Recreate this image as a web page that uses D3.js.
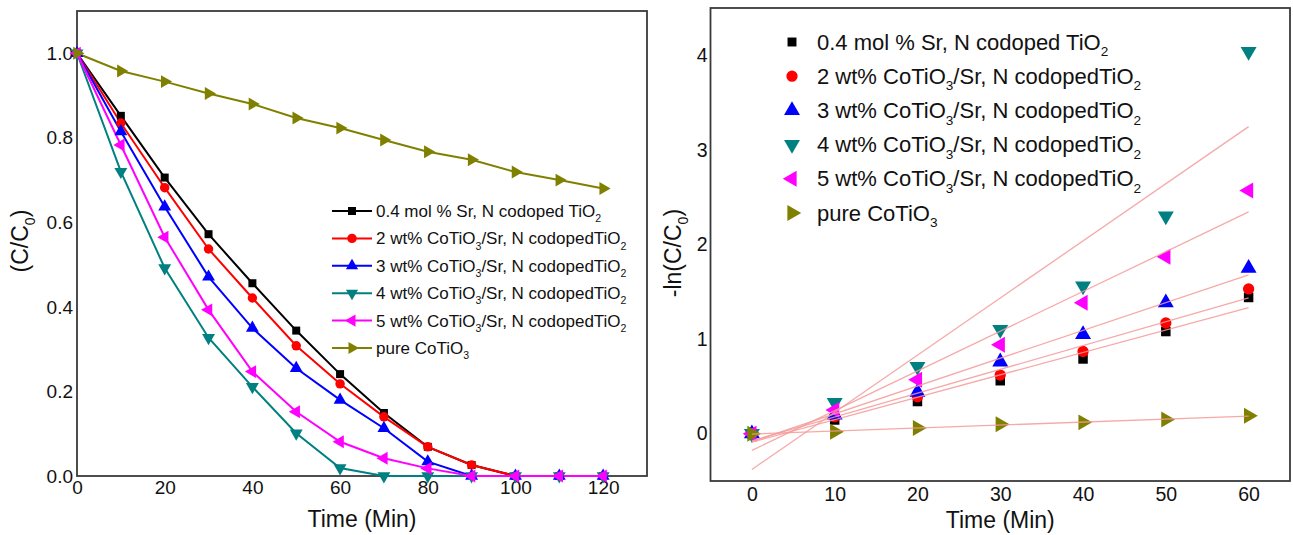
<!DOCTYPE html>
<html><head><meta charset="utf-8">
<script src="https://cdn.jsdelivr.net/npm/d3@7"></script>
<style>
html,body{margin:0;padding:0;background:#fff;}
svg{display:block;font-family:"Liberation Sans",Arial,Helvetica,sans-serif;}
</style></head>
<body>
<svg id="chart" width="1293" height="535"></svg>
<script>
// ---------- data ----------
const timeLeft = [0,10,20,30,40,50,60,70,80,90,100,110,120];
const srNTiO2   = [1.0,0.852,0.706,0.572,0.456,0.344,0.241,0.149,0.069,0.026,0,0,0];
const coTi2     = [1.0,0.835,0.682,0.537,0.421,0.308,0.218,0.140,0.069,0.026,0,0,0];
const coTi3     = [1.0,0.815,0.637,0.471,0.350,0.255,0.180,0.113,0.034,0,0,0,0];
const coTi4     = [1.0,0.720,0.492,0.327,0.211,0.101,0.019,0,0,0,0,0,0];
const coTi5     = [1.0,0.783,0.565,0.393,0.247,0.152,0.081,0.042,0.018,0,0,0,0];
const pureCoTiO3= [1.0,0.958,0.933,0.905,0.880,0.847,0.823,0.795,0.767,0.748,0.719,0.700,0.680];

const timeRight = [0,10,20,30,40,50,60];
const lnSrN  = [0,0.145,0.34,0.56,0.79,1.08,1.44];
const ln2    = [0,0.18,0.39,0.62,0.87,1.17,1.53];
const ln3    = [0,0.20,0.44,0.76,1.05,1.385,1.75];
const ln4    = [0,0.33,0.71,1.10,1.56,2.30,4.04];
const ln5    = [0,0.25,0.57,0.94,1.385,1.87,2.57];
const lnPure = [0,0.02,0.06,0.10,0.12,0.15,0.19];

// legend labels as [text, isSubscript] pieces
const legendLabels = [
  [["0.4 mol % Sr, N codoped TiO",0],["2",1]],
  [["2 wt% CoTiO",0],["3",1],["/Sr, N codopedTiO",0],["2",1]],
  [["3 wt% CoTiO",0],["3",1],["/Sr, N codopedTiO",0],["2",1]],
  [["4 wt% CoTiO",0],["3",1],["/Sr, N codopedTiO",0],["2",1]],
  [["5 wt% CoTiO",0],["3",1],["/Sr, N codopedTiO",0],["2",1]],
  [["pure CoTiO",0],["3",1]]
];
const colors = ["#000000","#ff0000","#0000ff","#008080","#ff00ff","#808000"];
const leftTicksX = [0,20,40,60,80,100,120];
const leftTicksY = [0.0,0.2,0.4,0.6,0.8,1.0];
const rightTicksX = [0,10,20,30,40,50,60];
const rightTicksY = [0,1,2,3,4];

const leftData = [srNTiO2,coTi2,coTi3,coTi4,coTi5,pureCoTiO3];
const rightData = [lnSrN,ln2,ln3,ln4,ln5,lnPure];

// symbol: [type, rotation]
const symbols = [[d3.symbolSquare,0],[d3.symbolCircle,0],[d3.symbolTriangle,0],[d3.symbolTriangle,180],[d3.symbolTriangle,-90],[d3.symbolTriangle,90]];

const svg = d3.select("#chart");
const frameColor = "#3a3a3a";

function addRich(sel, parts, size){
  let acc = 0;
  parts.forEach(([t,sub])=>{
    const ts = sel.append("tspan").text(t);
    const want = sub ? size*0.3 : 0;
    if(sub) ts.attr("font-size", size*0.62);
    ts.attr("dy", want - acc);
    acc = want;
  });
}

// ---------- left panel ----------
const L = {x0:77, x1:647, y0:11, y1:476};
const xL = d3.scaleLinear().domain([0,130]).range([L.x0, L.x1]);
const yL = d3.scaleLinear().domain([0,1.1]).range([L.y1, L.y0]);
const gL = svg.append("g");

gL.append("rect").attr("x",L.x0).attr("y",L.y0).attr("width",L.x1-L.x0).attr("height",L.y1-L.y0)
  .attr("fill","#fff").attr("stroke",frameColor).attr("stroke-width",1.8);

const axLB = d3.axisBottom(xL).tickValues(leftTicksX).tickSize(0).tickPadding(5).tickFormat(d3.format("d"));
gL.append("g").attr("transform",`translate(0,${L.y1})`).call(axLB)
  .call(g=>g.select(".domain").remove())
  .selectAll("text").attr("font-size",19).attr("fill","#111").attr("font-family","inherit");
const axLL = d3.axisLeft(yL).tickValues(leftTicksY).tickSize(0).tickPadding(4).tickFormat(d3.format(".1f"));
gL.append("g").attr("transform",`translate(${L.x0},0)`).call(axLL)
  .call(g=>g.select(".domain").remove())
  .selectAll("text").attr("font-size",19).attr("fill","#111").attr("font-family","inherit");

const lineL = d3.line().x((d,i)=>xL(timeLeft[i])).y(d=>yL(d));
leftData.forEach((arr,k)=>{
  gL.append("path").datum(arr).attr("d",lineL).attr("fill","none")
    .attr("stroke",colors[k]).attr("stroke-width",2);
});
leftData.forEach((arr,k)=>{
  const [type,rot] = symbols[k];
  const size = type===d3.symbolCircle ? 70 : (type===d3.symbolSquare ? 64 : 72);
  gL.append("g").selectAll("path").data(arr).join("path")
    .attr("d", d3.symbol().type(type).size(size))
    .attr("transform",(d,i)=>`translate(${xL(timeLeft[i])},${yL(d)}) rotate(${rot})`)
    .attr("fill",colors[k]);
});

// left legend
const legL = gL.append("g");
const legLx0 = 332, legLx1 = 372, legLy = 211, legLdy = 27.4;
legendLabels.forEach((parts,k)=>{
  const y = legLy + k*legLdy;
  legL.append("line").attr("x1",legLx0).attr("x2",legLx1).attr("y1",y).attr("y2",y)
    .attr("stroke",colors[k]).attr("stroke-width",2);
  const [type,rot] = symbols[k];
  legL.append("path").attr("d", d3.symbol().type(type).size(type===d3.symbolCircle?70:64))
    .attr("transform",`translate(${(legLx0+legLx1)/2},${y}) rotate(${rot})`).attr("fill",colors[k]);
  const t = legL.append("text").attr("x",legLx1+4).attr("y",y+6).attr("font-size",17).attr("fill","#111");
  addRich(t, parts, 17);
});

// left axis titles
gL.append("text").attr("x",(L.x0+L.x1)/2).attr("y",527).attr("text-anchor","middle")
  .attr("font-size",23).attr("fill","#111").text("Time (Min)");
const ylt = gL.append("text").attr("transform","translate(28,241) rotate(-90)").attr("text-anchor","middle")
  .attr("font-size",23).attr("fill","#111");
addRich(ylt, [["(C/C",0],["0",1],[")",0]], 23);

// ---------- right panel ----------
const R = {x0:710.5, x1:1290, y0:8, y1:481};
const xR = d3.scaleLinear().domain([-5,65]).range([R.x0, R.x1]);
const yR = d3.scaleLinear().domain([-0.5,4.5]).range([R.y1, R.y0]);
const gR = svg.append("g");

gR.append("rect").attr("x",R.x0).attr("y",R.y0).attr("width",R.x1-R.x0).attr("height",R.y1-R.y0)
  .attr("fill","#fff").attr("stroke",frameColor).attr("stroke-width",1.8);

const axRB = d3.axisBottom(xR).tickValues(rightTicksX).tickSize(0).tickPadding(6).tickFormat(d3.format("d"));
gR.append("g").attr("transform",`translate(0,${R.y1})`).call(axRB)
  .call(g=>g.select(".domain").remove())
  .selectAll("text").attr("font-size",19.5).attr("fill","#111").attr("font-family","inherit");
const axRL = d3.axisLeft(yR).tickValues(rightTicksY).tickSize(0).tickPadding(3).tickFormat(d3.format("d"));
gR.append("g").attr("transform",`translate(${R.x0},0)`).call(axRL)
  .call(g=>g.select(".domain").remove())
  .selectAll("text").attr("font-size",19.5).attr("fill","#111").attr("font-family","inherit");

// markers
rightData.forEach((arr,k)=>{
  const [type,rot] = symbols[k];
  const size = type===d3.symbolCircle ? 100 : (type===d3.symbolSquare ? 90 : 110);
  gR.append("g").selectAll("path").data(arr).join("path")
    .attr("d", d3.symbol().type(type).size(size))
    .attr("transform",(d,i)=>`translate(${xR(timeRight[i])},${yR(d)}) rotate(${rot})`)
    .attr("fill",colors[k]);
});

// linear least-squares fit lines
function fit(xs, ys){
  const n = xs.length, mx = d3.mean(xs), my = d3.mean(ys);
  let sxy=0, sxx=0;
  for(let i=0;i<n;i++){ sxy += (xs[i]-mx)*(ys[i]-my); sxx += (xs[i]-mx)**2; }
  const b = sxy/sxx, a = my - b*mx;
  return [a,b];
}
rightData.forEach((arr)=>{
  const [a,b] = fit(timeRight, arr);
  const x0 = d3.min(timeRight), x1 = d3.max(timeRight);
  gR.append("line").attr("x1",xR(x0)).attr("y1",yR(a+b*x0)).attr("x2",xR(x1)).attr("y2",yR(a+b*x1))
    .attr("stroke","#f49a9a").attr("stroke-width",1.3).attr("stroke-opacity",0.85);
});

// right legend
const legR = gR.append("g");
const legRmx = 792, legRtx = 817, legRy = 42, legRdy = 34.2;
legendLabels.forEach((parts,k)=>{
  const y = legRy + k*legRdy;
  const [type,rot] = symbols[k];
  legR.append("path").attr("d", d3.symbol().type(type).size(type===d3.symbolCircle?100:(type===d3.symbolSquare?80:110)))
    .attr("transform",`translate(${legRmx},${y}) rotate(${rot})`).attr("fill",colors[k]);
  const t = legR.append("text").attr("x",legRtx).attr("y",y+7.5).attr("font-size",22).attr("fill","#111");
  addRich(t, parts, 22);
});

gR.append("text").attr("x",(R.x0+R.x1)/2).attr("y",528).attr("text-anchor","middle")
  .attr("font-size",23).attr("fill","#111").text("Time (Min)");
const yrt = gR.append("text").attr("transform","translate(681,253) rotate(-90)").attr("text-anchor","middle")
  .attr("font-size",23).attr("fill","#111");
addRich(yrt, [["-ln(C/C",0],["0",1],[")",0]], 23);
</script>
</body></html>
